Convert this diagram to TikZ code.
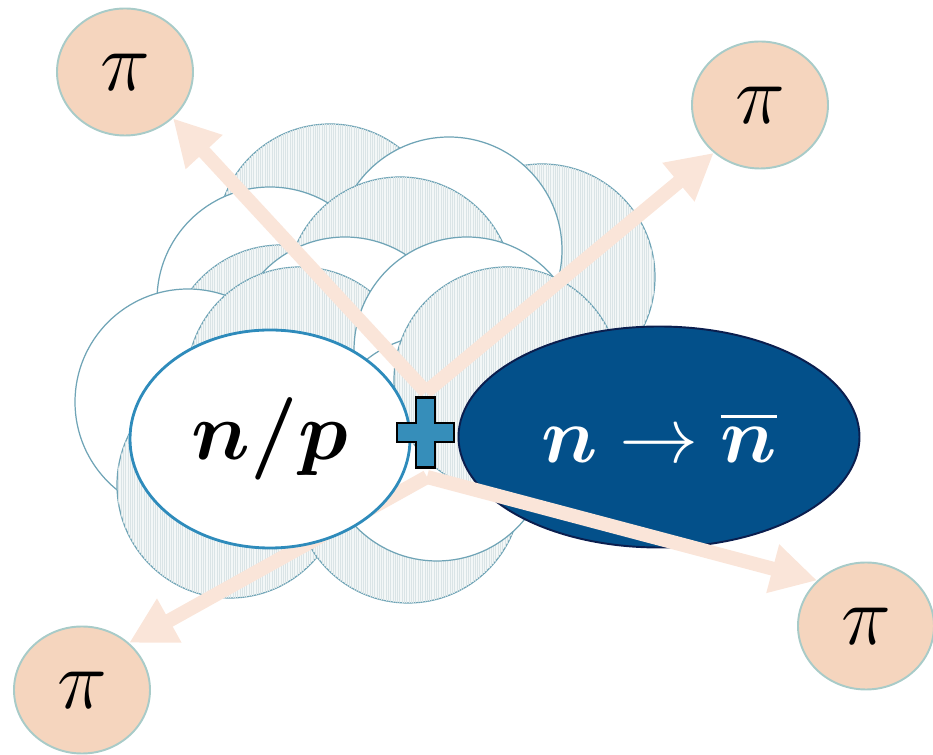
\RequirePackage{fix-cm}
\documentclass[tikz,border=0pt]{standalone}
\usepackage{amsmath, amssymb}
\usepackage{tikz}
\usetikzlibrary{positioning,arrows.meta,shapes.geometric,patterns.meta}

\definecolor{pionfill}{HTML}{F5D5BE}
\definecolor{pionline}{HTML}{A8CBC8}
\definecolor{emitpeach}{HTML}{FAE5D9}
\definecolor{oscblue}{HTML}{03508A}
\definecolor{oscline}{HTML}{0B1E4E}
\definecolor{nucline}{HTML}{2E8BBB}
\definecolor{plusblue}{HTML}{368EBA}
\definecolor{cloudline}{HTML}{6FA4B6}
\definecolor{hatchbg}{HTML}{F3F7F7}
\definecolor{hatchln}{HTML}{DAE4E6}

\begin{document}
\begin{tikzpicture}[x=0.2mm, y=-0.2mm, >=Latex, every node/.style={font=\small},
  pion/.style={ellipse, draw=pionline, line width=1.1pt, fill=pionfill,
    minimum width=2.72cm, minimum height=2.54cm, font=\fontsize{48}{48}\selectfont},
  cloud white/.style={draw=cloudline, line width=0.7pt, fill=white},
  cloud hatch/.style={cloud white, fill=hatchbg,
    postaction={pattern={Lines[angle=90, distance=1.3pt, line width=0.4pt]}, pattern color=hatchln}},
  emit/.style={draw=emitpeach, line width=0.28cm, -{Triangle[length=0.92cm, width=0.94cm]}},
  plusmark/.style={draw=black, line width=1.4pt, fill=plusblue}]
  \useasboundingbox (0,0) rectangle (933,755);

  % nucleus: overlapping nucleons, back to front
  \foreach \cx/\cy/\kind in {330/237/hatch, 542/277/hatch, 449/250/white, 270/300/white,
      400/290/hatch, 281/358/hatch, 188/402/white, 345/350/white, 300/380/hatch,
      467/350/white, 230/485/hatch, 408/490/hatch, 437/448/white, 507/380/hatch}
    \path[cloud \kind] (\cx,\cy) circle[radius=113];

  % pions
  \node[pion] (pitl) at (125,72) {$\pi$};
  \node[pion] (pitr) at (760,105) {$\pi$};
  \node[pion] (pibr) at (866,626) {$\pi$};
  \node[pion] (pibl) at (82,690) {$\pi$};

  \coordinate (vtop) at (426,392);
  \coordinate (vbot) at (427,477);
  \draw[emit] (vtop) -- (pitl.-44);
  \draw[emit] (vtop) -- (pitr.-134);
  \draw[emit] (vbot) -- (pibl.45);

  \node[ellipse, draw=nucline, line width=1.6pt, fill=white, minimum width=5.6cm,
    minimum height=4.36cm, font=\fontsize{47}{47}\selectfont] (nuc) at (270,439) {$\boldsymbol{n/p}$};
  \node[ellipse, draw=oscline, line width=1.1pt, fill=oscblue, text=white, minimum width=8.02cm,
    minimum height=4.42cm, font=\fontsize{45}{45}\selectfont] (osc) at (659,437)
    {$\boldsymbol{n}\to\overline{\boldsymbol{n}}$};
  \draw[emit] (vbot) -- (pibr.137);

  % the plus between the two
  \begin{scope}[shift={(425.5,432.5)}]
    \draw[plusmark] (-9.5,-35) -- (9.5,-35) -- (9.5,-9.5) -- (28.5,-9.5) -- (28.5,9.5)
      -- (9.5,9.5) -- (9.5,35) -- (-9.5,35) -- (-9.5,9.5) -- (-28.5,9.5) -- (-28.5,-9.5)
      -- (-9.5,-9.5) -- cycle;
  \end{scope}
\end{tikzpicture}
\end{document}
